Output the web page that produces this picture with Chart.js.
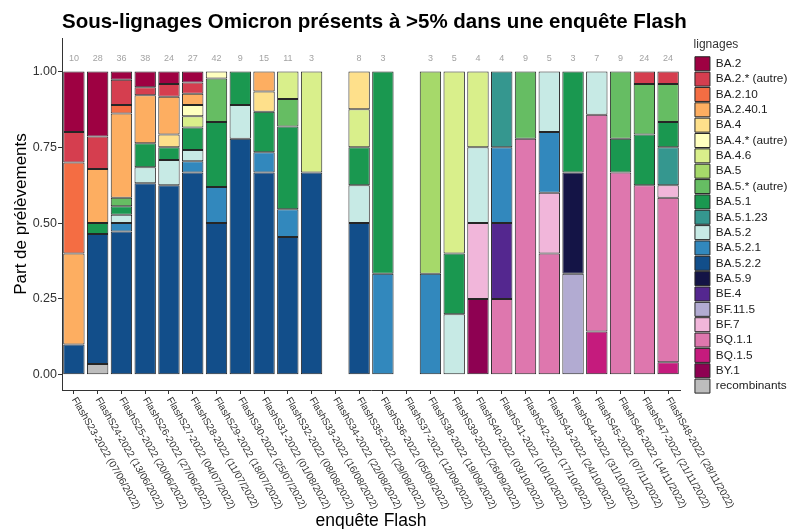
<!DOCTYPE html>
<html lang="fr">
<head>
<meta charset="utf-8">
<title>Sous-lignages Omicron</title>
<script src="https://cdn.jsdelivr.net/npm/chart.js@4.4.1/dist/chart.umd.min.js"></script>
<style>
  html, body { margin: 0; padding: 0; background: #fff; }
  #c { display: block; }
</style>
</head>
<body>
<canvas id="c" width="788" height="529"></canvas>
<script>
// ── catégories (enquêtes Flash) ────────────────────────────────────────────
const enquetes = [
  'FlashS23-2022 (07/06/2022)', 'FlashS24-2022 (13/06/2022)', 'FlashS25-2022 (20/06/2022)',
  'FlashS26-2022 (27/06/2022)', 'FlashS27-2022 (04/07/2022)', 'FlashS28-2022 (11/07/2022)',
  'FlashS29-2022 (18/07/2022)', 'FlashS30-2022 (25/07/2022)', 'FlashS31-2022 (01/08/2022)',
  'FlashS32-2022 (08/08/2022)', 'FlashS33-2022 (16/08/2022)', 'FlashS34-2022 (22/08/2022)',
  'FlashS35-2022 (29/08/2022)', 'FlashS36-2022 (05/09/2022)', 'FlashS37-2022 (12/09/2022)',
  'FlashS38-2022 (19/09/2022)', 'FlashS39-2022 (26/09/2022)', 'FlashS40-2022 (03/10/2022)',
  'FlashS41-2022 (10/10/2022)', 'FlashS42-2022 (17/10/2022)', 'FlashS43-2022 (24/10/2022)',
  'FlashS44-2022 (31/10/2022)', 'FlashS45-2022 (07/11/2022)', 'FlashS46-2022 (14/11/2022)',
  'FlashS47-2022 (21/11/2022)', 'FlashS48-2022 (28/11/2022)'
];

// nombre de prélèvements séquencés (étiquettes au-dessus des barres)
const totaux = [10, 28, 36, 38, 24, 27, 42, 9, 15, 11, 3, null, 8, 3, null, 3, 5, 4, 4, 9, 5, 3, 7, 9, 24, 24];

// ── comptes par lignage (S23 … S48) ───────────────────────────────────────
const ba2          = [2,6,1,2,1,1,0,0,0,0,0,0,0,0,0,0,0,0,0,0,0,0,0,0,0,0];
const ba2Autre     = [1,3,3,1,1,1,0,0,0,0,0,0,0,0,0,0,0,0,0,0,0,0,0,0,1,1];
const ba2_10       = [3,0,1,0,0,0,0,0,0,0,0,0,0,0,0,0,0,0,0,0,0,0,0,0,0,0];
const ba2_40_1     = [3,5,10,6,3,1,0,0,1,0,0,0,0,0,0,0,0,0,0,0,0,0,0,0,0,0];
const ba4          = [0,0,0,0,1,0,0,0,1,0,0,0,1,0,0,0,0,0,0,0,0,0,0,0,0,0];
const ba4Autre     = [0,0,0,0,0,1,1,0,0,0,0,0,0,0,0,0,0,0,0,0,0,0,0,0,0,0];
const ba4_6        = [0,0,0,0,0,1,0,0,0,1,1,0,1,0,0,0,3,1,0,0,0,0,0,0,0,0];
const ba5          = [0,0,0,0,0,0,0,0,0,0,0,0,0,0,0,2,0,0,0,0,0,0,0,0,0,0];
const ba5Autre     = [0,0,1,0,0,0,6,0,0,1,0,0,0,0,0,0,0,0,0,2,0,0,0,2,4,3];
const ba5_1        = [0,1,1,3,1,2,9,1,2,3,0,0,1,2,0,0,1,0,0,0,0,1,0,1,4,2];
const ba5_1_23     = [0,0,0,0,0,0,0,0,0,0,0,0,0,0,0,0,0,0,1,0,0,0,0,0,0,3];
const ba5_2        = [0,0,1,2,2,1,0,1,0,0,0,0,1,0,0,0,1,1,0,0,1,0,1,0,0,0];
const ba5_2_1      = [0,0,1,0,0,1,5,0,1,1,0,0,0,1,0,1,0,0,1,0,1,0,0,0,0,0];
const ba5_2_2      = [1,12,17,24,15,18,21,7,10,5,2,0,4,0,0,0,0,0,0,0,0,0,0,0,0,0];
const ba5_9        = [0,0,0,0,0,0,0,0,0,0,0,0,0,0,0,0,0,0,0,0,0,1,0,0,0,0];
const be4          = [0,0,0,0,0,0,0,0,0,0,0,0,0,0,0,0,0,0,1,0,0,0,0,0,0,0];
const bf11_5       = [0,0,0,0,0,0,0,0,0,0,0,0,0,0,0,0,0,0,0,0,0,1,0,0,0,0];
const bf7          = [0,0,0,0,0,0,0,0,0,0,0,0,0,0,0,0,0,1,0,0,1,0,0,0,0,1];
const bq1_1        = [0,0,0,0,0,0,0,0,0,0,0,0,0,0,0,0,0,0,1,7,2,0,5,6,15,13];
const bq1_5        = [0,0,0,0,0,0,0,0,0,0,0,0,0,0,0,0,0,0,0,0,0,0,1,0,0,1];
const by1          = [0,0,0,0,0,0,0,0,0,0,0,0,0,0,0,0,0,1,0,0,0,0,0,0,0,0];
const recombinants = [0,1,0,0,0,0,0,0,0,0,0,0,0,0,0,0,0,0,0,0,0,0,0,0,0,0];

// ordre de la légende (du haut de la pile vers le bas)
const lignages = ['BA.2', 'BA.2.* (autre)', 'BA.2.10', 'BA.2.40.1', 'BA.4', 'BA.4.* (autre)', 'BA.4.6',
  'BA.5', 'BA.5.* (autre)', 'BA.5.1', 'BA.5.1.23', 'BA.5.2', 'BA.5.2.1', 'BA.5.2.2', 'BA.5.9',
  'BE.4', 'BF.11.5', 'BF.7', 'BQ.1.1', 'BQ.1.5', 'BY.1', 'recombinants'];
const comptes = [ba2, ba2Autre, ba2_10, ba2_40_1, ba4, ba4Autre, ba4_6,
  ba5, ba5Autre, ba5_1, ba5_1_23, ba5_2, ba5_2_1, ba5_2_2, ba5_9,
  be4, bf11_5, bf7, bq1_1, bq1_5, by1, recombinants];
const couleurs = ['#9e0142', '#d53e4f', '#f46d43', '#fdae61', '#fee08b', '#ffffbf', '#d9ef8b',
  '#a6d96a', '#66bd63', '#1a9850', '#35978f', '#c7eae5', '#3288bd', '#124e8a', '#141446',
  '#54278f', '#b2abd2', '#f1b6da', '#de77ae', '#c51b7d', '#8e0152', '#bdbdbd'];

const yTicks = [0, 0.25, 0.5, 0.75, 1];

Chart.defaults.font.family = "'Liberation Sans', Arial, Helvetica, sans-serif";
Chart.defaults.color = '#333';

// datasets empilés du bas vers le haut
const datasets = lignages.map((nom, k) => ({
  label: nom,
  data: comptes[k].map((c, i) => (c && totaux[i]) ? c / totaux[i] : null),
  backgroundColor: couleurs[k],
  borderColor: '#262626',
  borderWidth: 1,
  borderSkipped: false,
  barPercentage: 0.9,
  categoryPercentage: 1.0,
})).reverse();

// ── plugins de dessin ─────────────────────────────────────────────────────
const titrePrincipal = {
  id: 'titrePrincipal',
  afterDraw(chart) {
    const ctx = chart.ctx;
    ctx.save();
    ctx.font = "bold 20.5px 'Liberation Sans', Arial, sans-serif";
    ctx.fillStyle = '#000';
    ctx.textAlign = 'left';
    ctx.textBaseline = 'alphabetic';
    ctx.fillText('Sous-lignages Omicron présents à >5% dans une enquête Flash', chart.chartArea.left, 28);
    ctx.restore();
  }
};

const effectifs = {
  id: 'effectifs',
  afterDatasetsDraw(chart) {
    const ctx = chart.ctx, x = chart.scales.x, y = chart.scales.y;
    ctx.save();
    ctx.font = "9px 'Liberation Sans', Arial, sans-serif";
    ctx.fillStyle = '#a3a3a3';
    ctx.textAlign = 'center';
    ctx.textBaseline = 'middle';
    totaux.forEach((n, i) => {
      if (n == null) return;
      ctx.fillText(String(n), x.getPixelForValue(i), y.getPixelForValue(1.045) + 1);
    });
    ctx.restore();
  }
};

const etiquettesX = {
  id: 'etiquettesX',
  afterDraw(chart) {
    const ctx = chart.ctx, x = chart.scales.x, area = chart.chartArea;
    ctx.save();
    ctx.font = "10px 'Liberation Sans', Arial, sans-serif";
    ctx.fillStyle = '#333';
    ctx.textAlign = 'left';
    ctx.textBaseline = 'middle';
    enquetes.forEach((lab, i) => {
      ctx.save();
      ctx.translate(x.getPixelForValue(i), area.bottom + 8);
      ctx.rotate(Math.PI / 3);
      ctx.fillText(lab, 0, 0);
      ctx.restore();
    });
    ctx.font = "17.5px 'Liberation Sans', Arial, sans-serif";
    ctx.fillStyle = '#000';
    ctx.textAlign = 'center';
    ctx.textBaseline = 'alphabetic';
    ctx.fillText('enquête Flash', (area.left + area.right) / 2, 526);
    ctx.restore();
  }
};

// le panneau s'arrête à PANEL_RIGHT, la légende commence à LEGEND_LEFT
const PANEL_RIGHT = 680;
const LEGEND_LEFT = 693.6;
const ecartLegende = {
  id: 'ecartLegende',
  beforeLayout(chart) {
    const lg = chart.legend;
    if (lg && !lg._ecart) {
      const fit = lg.fit;
      lg.fit = function () {
        fit.call(this);
        this.width = Math.max(this.width, chart.width - PANEL_RIGHT);
      };
      lg._ecart = true;
    }
  },
  afterLayout(chart) {
    const lg = chart.legend;
    if (lg) { lg.left = LEGEND_LEFT; lg.right = chart.width; lg.width = lg.right - lg.left; }
  }
};

new Chart(document.getElementById('c').getContext('2d'), {
  type: 'bar',
  data: { labels: enquetes, datasets },
  options: {
    responsive: false,
    animation: false,
    devicePixelRatio: 1,
    layout: { padding: { top: 38, left: 0, right: 0, bottom: 0 } },
    plugins: {
      legend: {
        position: 'right',
        align: 'start',
        reverse: true,
        title: { display: true, text: 'lignages', position: 'start', padding: { top: 1, bottom: 2 }, font: { size: 12 }, color: '#333' },
        labels: { boxWidth: 15, boxHeight: 14, padding: 1.35, font: { size: 11.8 }, color: '#1a1a1a' },
      },
      tooltip: { enabled: false },
    },
    scales: {
      x: {
        stacked: true,
        offset: true,
        grid: { display: true, offset: false, drawOnChartArea: false, drawTicks: true, tickLength: 4, color: '#333' },
        border: { display: true, color: '#333', width: 1 },
        ticks: { display: false },
        afterFit(scale) { scale.height = 139; },
      },
      y: {
        stacked: true,
        min: -0.05,
        max: 1.11,
        grid: { display: true, drawOnChartArea: false, drawTicks: true, tickLength: 4, color: '#333' },
        border: { display: true, color: '#333', width: 1 },
        afterBuildTicks(scale) { scale.ticks = yTicks.map(v => ({ value: v })); },
        ticks: { padding: 1, color: '#333', font: { size: 12.5 }, callback: v => Number(v).toFixed(2) },
        title: { display: true, text: 'Part de prélèvements', color: '#000', font: { size: 17 }, padding: { top: 11, bottom: 0 } },
        afterFit(scale) { scale.width = 62; },
      },
    },
  },
  plugins: [ecartLegende, effectifs, etiquettesX, titrePrincipal],
});
</script>
</body>
</html>
